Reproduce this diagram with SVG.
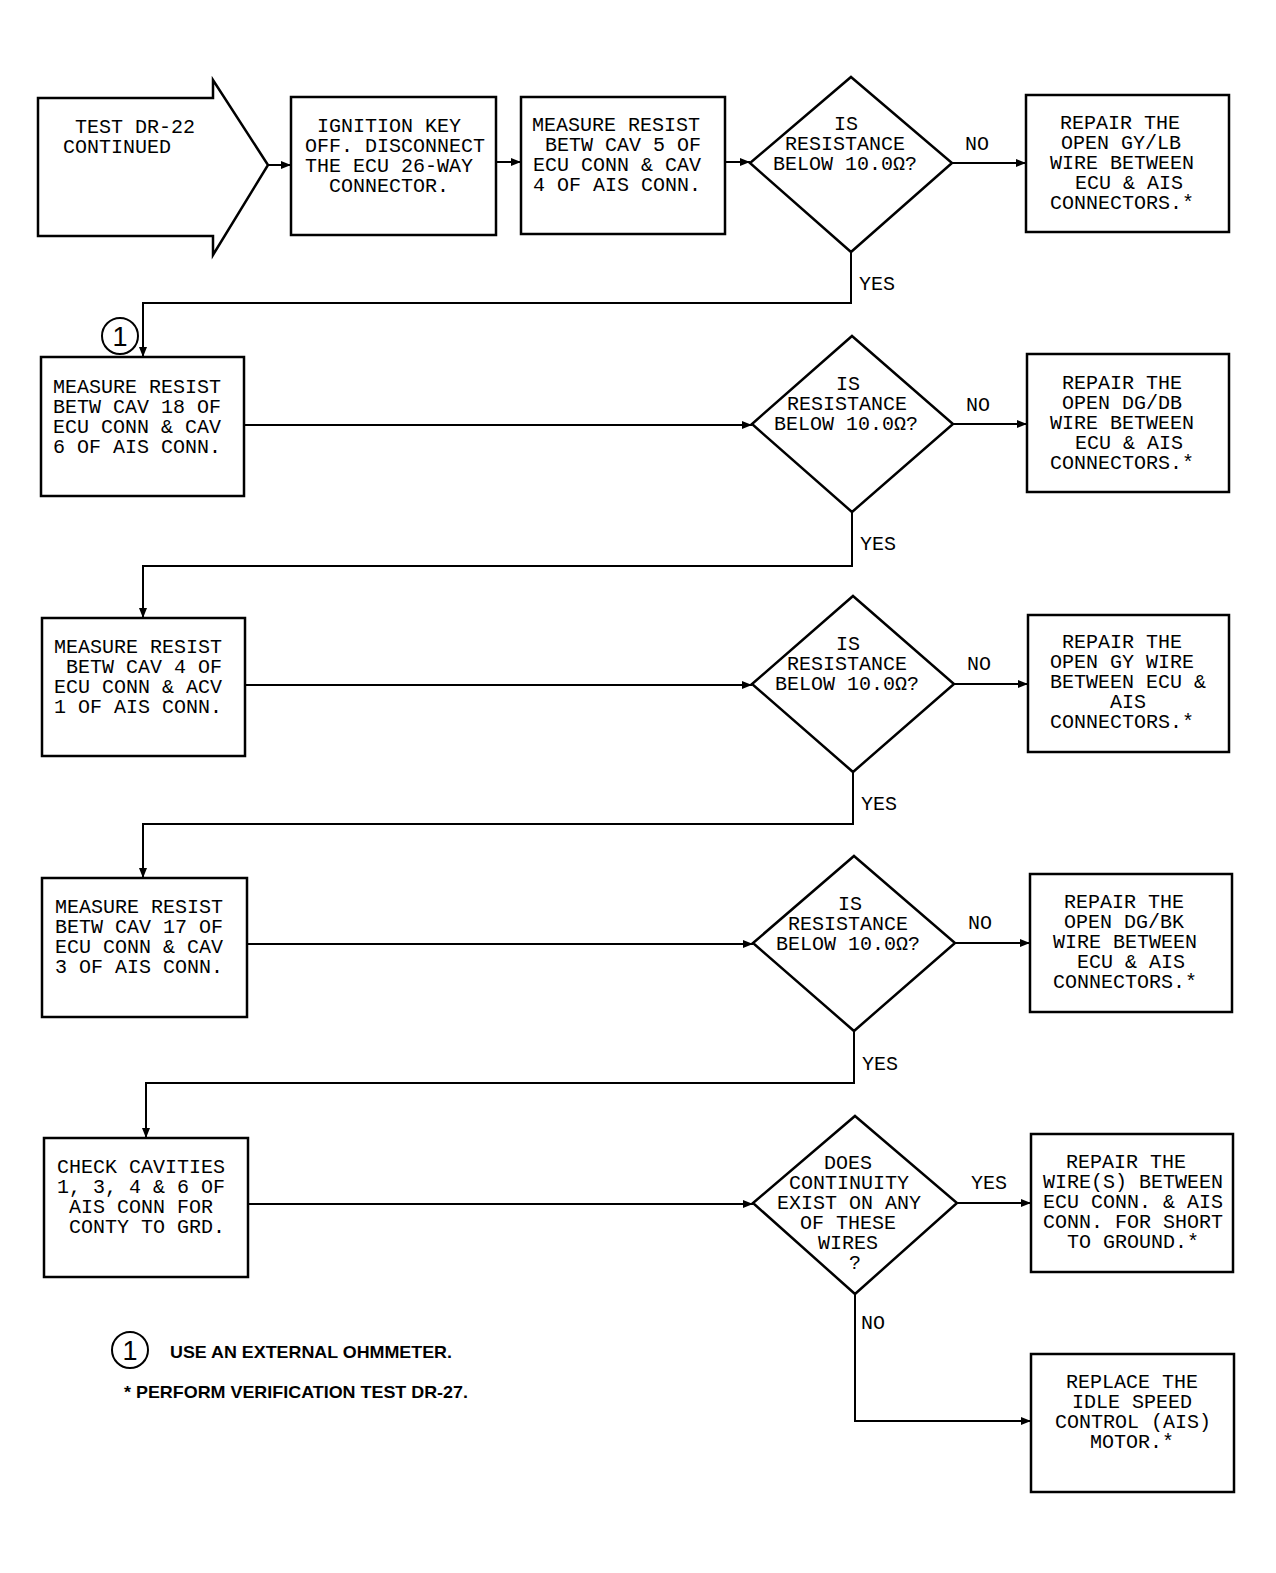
<svg xmlns="http://www.w3.org/2000/svg" width="1276" height="1573" viewBox="0 0 1276 1573">
<defs>
<marker id="ah" viewBox="0 0 10 8" refX="10" refY="4" markerWidth="10" markerHeight="8" markerUnits="userSpaceOnUse" orient="auto">
<path d="M0,0 L10,4 L0,8 Z" fill="#000"/>
</marker>
<style>
.box{fill:#fff;stroke:#000;stroke-width:2.5}
.t{font-family:"Liberation Mono","DejaVu Sans Mono",monospace;font-size:20px;fill:#000}
.m{text-anchor:middle}
.c{fill:none;stroke:#000;stroke-width:2}
.n{font-family:"Liberation Sans",Arial,sans-serif;font-weight:bold;font-size:17px;fill:#000}
.circ{fill:none;stroke:#000;stroke-width:2}
.one{font-family:"Liberation Sans",Arial,sans-serif;font-size:27px;text-anchor:middle;fill:#000}
</style>
</defs>
<rect width="1276" height="1573" fill="#fff"/>

<g id="start">
<path class="box" d="M38,98 H213 V80 L268,165 L213,255 V236 H38 Z"/>
<text class="t" x="75" y="133">TEST DR-22</text>
<text class="t" x="63" y="153">CONTINUED</text>
</g>

<g id="ignition">
<rect class="box" x="291" y="97" width="205" height="138"/>
<text class="t" x="317" y="132">IGNITION KEY</text>
<text class="t" x="305" y="152">OFF. DISCONNECT</text>
<text class="t" x="305" y="172">THE ECU 26-WAY</text>
<text class="t" x="329" y="192">CONNECTOR.</text>
</g>

<g id="measure1">
<rect class="box" x="521" y="97" width="204" height="137"/>
<text class="t" x="532" y="131">MEASURE RESIST</text>
<text class="t" x="545" y="151">BETW CAV 5 OF</text>
<text class="t" x="533" y="171">ECU CONN &amp; CAV</text>
<text class="t" x="533" y="191">4 OF AIS CONN.</text>
</g>

<g id="dec1">
<path class="box" d="M851,77 L952,163 L851,252 L750,163 Z"/>
<text class="t m" x="846" y="130">IS</text>
<text class="t m" x="845" y="150">RESISTANCE</text>
<text class="t m" x="845" y="170">BELOW 10.0Ω?</text>
</g>

<g id="repair1">
<rect class="box" x="1026" y="95" width="203" height="137"/>
<text class="t" x="1060" y="129">REPAIR THE</text>
<text class="t" x="1061" y="149">OPEN GY/LB</text>
<text class="t" x="1050" y="169">WIRE BETWEEN</text>
<text class="t" x="1075" y="189">ECU &amp; AIS</text>
<text class="t" x="1050" y="209">CONNECTORS.*</text>
</g>

<g id="measure2">
<rect class="box" x="41" y="357" width="203" height="139"/>
<text class="t" x="53" y="393">MEASURE RESIST</text>
<text class="t" x="53" y="413">BETW CAV 18 OF</text>
<text class="t" x="53" y="433">ECU CONN &amp; CAV</text>
<text class="t" x="53" y="453">6 OF AIS CONN.</text>
</g>

<g id="dec2">
<path class="box" d="M852,336 L953,424 L852,512 L752,424 Z"/>
<text class="t m" x="848" y="390">IS</text>
<text class="t m" x="847" y="410">RESISTANCE</text>
<text class="t m" x="846" y="430">BELOW 10.0Ω?</text>
</g>

<g id="repair2">
<rect class="box" x="1027" y="354" width="202" height="138"/>
<text class="t" x="1062" y="389">REPAIR THE</text>
<text class="t" x="1062" y="409">OPEN DG/DB</text>
<text class="t" x="1050" y="429">WIRE BETWEEN</text>
<text class="t" x="1075" y="449">ECU &amp; AIS</text>
<text class="t" x="1050" y="469">CONNECTORS.*</text>
</g>

<g id="measure3">
<rect class="box" x="42" y="618" width="203" height="138"/>
<text class="t" x="54" y="653">MEASURE RESIST</text>
<text class="t" x="66" y="673">BETW CAV 4 OF</text>
<text class="t" x="54" y="693">ECU CONN &amp; ACV</text>
<text class="t" x="54" y="713">1 OF AIS CONN.</text>
</g>

<g id="dec3">
<path class="box" d="M853,596 L954,684 L853,772 L752,684 Z"/>
<text class="t m" x="848" y="650">IS</text>
<text class="t m" x="847" y="670">RESISTANCE</text>
<text class="t m" x="847" y="690">BELOW 10.0Ω?</text>
</g>

<g id="repair3">
<rect class="box" x="1028" y="615" width="201" height="137"/>
<text class="t" x="1062" y="648">REPAIR THE</text>
<text class="t" x="1050" y="668">OPEN GY WIRE</text>
<text class="t" x="1050" y="688">BETWEEN ECU &amp;</text>
<text class="t" x="1110" y="708">AIS</text>
<text class="t" x="1050" y="728">CONNECTORS.*</text>
</g>

<g id="measure4">
<rect class="box" x="42" y="878" width="205" height="139"/>
<text class="t" x="55" y="913">MEASURE RESIST</text>
<text class="t" x="55" y="933">BETW CAV 17 OF</text>
<text class="t" x="55" y="953">ECU CONN &amp; CAV</text>
<text class="t" x="55" y="973">3 OF AIS CONN.</text>
</g>

<g id="dec4">
<path class="box" d="M854,856 L955,943 L854,1031 L753,943 Z"/>
<text class="t m" x="850" y="910">IS</text>
<text class="t m" x="848" y="930">RESISTANCE</text>
<text class="t m" x="848" y="950">BELOW 10.0Ω?</text>
</g>

<g id="repair4">
<rect class="box" x="1030" y="874" width="202" height="138"/>
<text class="t" x="1064" y="908">REPAIR THE</text>
<text class="t" x="1064" y="928">OPEN DG/BK</text>
<text class="t" x="1053" y="948">WIRE BETWEEN</text>
<text class="t" x="1077" y="968">ECU &amp; AIS</text>
<text class="t" x="1053" y="988">CONNECTORS.*</text>
</g>

<g id="check">
<rect class="box" x="44" y="1138" width="204" height="139"/>
<text class="t" x="57" y="1173">CHECK CAVITIES</text>
<text class="t" x="57" y="1193">1, 3, 4 &amp; 6 OF</text>
<text class="t" x="69" y="1213">AIS CONN FOR</text>
<text class="t" x="69" y="1233">CONTY TO GRD.</text>
</g>

<g id="dec5">
<path class="box" d="M855,1116 L957,1203 L855,1294 L753,1203 Z"/>
<text class="t m" x="848" y="1169">DOES</text>
<text class="t m" x="849" y="1189">CONTINUITY</text>
<text class="t m" x="849" y="1209">EXIST ON ANY</text>
<text class="t m" x="848" y="1229">OF THESE</text>
<text class="t m" x="848" y="1249">WIRES</text>
<text class="t m" x="855" y="1269">?</text>
</g>

<g id="repair5">
<rect class="box" x="1031" y="1134" width="202" height="138"/>
<text class="t" x="1066" y="1168">REPAIR THE</text>
<text class="t" x="1043" y="1188">WIRE(S) BETWEEN</text>
<text class="t" x="1043" y="1208">ECU CONN. &amp; AIS</text>
<text class="t" x="1043" y="1228">CONN. FOR SHORT</text>
<text class="t" x="1067" y="1248">TO GROUND.*</text>
</g>

<g id="replace">
<rect class="box" x="1031" y="1354" width="203" height="138"/>
<text class="t" x="1066" y="1388">REPLACE THE</text>
<text class="t" x="1072" y="1408">IDLE SPEED</text>
<text class="t" x="1055" y="1428">CONTROL (AIS)</text>
<text class="t" x="1090" y="1448">MOTOR.*</text>
</g>

<g id="connectors">
<path class="c" d="M268,165 H291" marker-end="url(#ah)"/>
<path class="c" d="M496,162 H521" marker-end="url(#ah)"/>
<path class="c" d="M725,162 H750" marker-end="url(#ah)"/>
<path class="c" d="M952,163 H1026" marker-end="url(#ah)"/>
<path class="c" d="M851,252 V303 H143 V357" marker-end="url(#ah)"/>
<path class="c" d="M244,425 H752" marker-end="url(#ah)"/>
<path class="c" d="M953,424 H1027" marker-end="url(#ah)"/>
<path class="c" d="M852,512 V566 H143 V618" marker-end="url(#ah)"/>
<path class="c" d="M245,685 H752" marker-end="url(#ah)"/>
<path class="c" d="M954,684 H1028" marker-end="url(#ah)"/>
<path class="c" d="M853,772 V824 H143 V878" marker-end="url(#ah)"/>
<path class="c" d="M247,944 H753" marker-end="url(#ah)"/>
<path class="c" d="M955,943 H1030" marker-end="url(#ah)"/>
<path class="c" d="M854,1031 V1083 H146 V1138" marker-end="url(#ah)"/>
<path class="c" d="M248,1204 H753" marker-end="url(#ah)"/>
<path class="c" d="M957,1203 H1031" marker-end="url(#ah)"/>
<path class="c" d="M855,1294 V1421 H1031" marker-end="url(#ah)"/>
<text class="t" x="965" y="150">NO</text>
<text class="t" x="859" y="290">YES</text>
<text class="t" x="966" y="411">NO</text>
<text class="t" x="860" y="550">YES</text>
<text class="t" x="967" y="670">NO</text>
<text class="t" x="861" y="810">YES</text>
<text class="t" x="968" y="929">NO</text>
<text class="t" x="862" y="1070">YES</text>
<text class="t" x="971" y="1189">YES</text>
<text class="t" x="861" y="1329">NO</text>
</g>

<g id="note-marker">
<circle class="circ" cx="120" cy="336" r="18"/>
<text class="one" x="120" y="346">1</text>
</g>

<g id="legend">
<circle class="circ" cx="130" cy="1350" r="18"/>
<text class="one" x="130" y="1360">1</text>
<text class="n" x="170" y="1358" textLength="282" lengthAdjust="spacingAndGlyphs">USE AN EXTERNAL OHMMETER.</text>
<text class="n" x="124" y="1398" textLength="344" lengthAdjust="spacingAndGlyphs">* PERFORM VERIFICATION TEST DR-27.</text>
</g>
</svg>
